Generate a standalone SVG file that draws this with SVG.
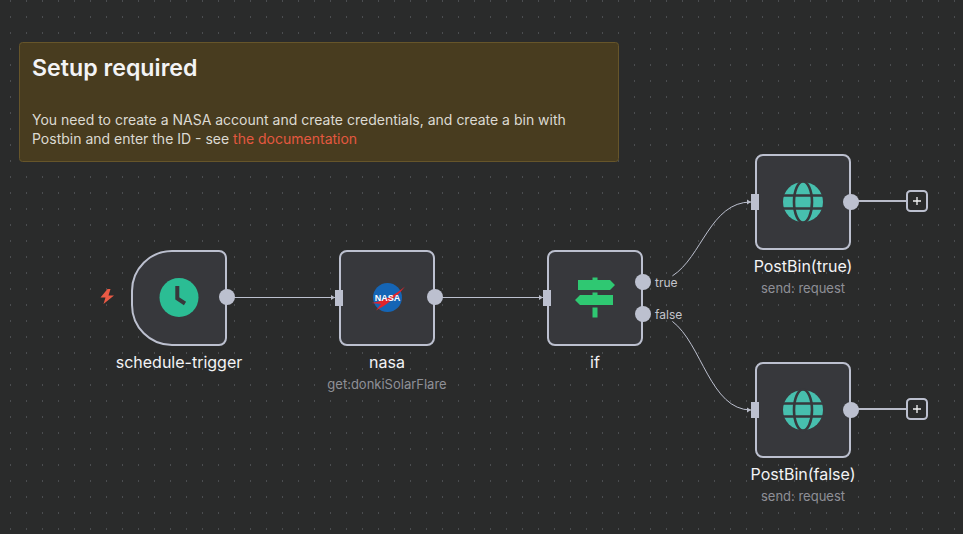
<svg xmlns="http://www.w3.org/2000/svg" width="963" height="534" viewBox="0 0 963 534">
<style>
.node{fill:#37383c;stroke:#bcc0cf;stroke-width:2}
.port{fill:#bcc0cf}
.edge{fill:none;stroke:#bcc0cf;stroke-width:1}
.stub{fill:none;stroke:#b9bcc9;stroke-width:2}
text{font-family:Inter,"Noto Sans","Liberation Sans",sans-serif}
.name{fill:#f3f3f5;font-size:16px;font-weight:400;text-anchor:middle}
.sub{fill:#8f9097;font-size:13px;text-anchor:middle}
.pl{fill:#c4c5cc;font-size:12px}
.note{fill:#dcdad2;font-size:14px}
.globe{fill:#47bfae}
</style>
<defs>
<pattern id="dots" width="16" height="16" patternUnits="userSpaceOnUse" x="10" y="0"><rect width="16" height="16" fill="#2a2b2b"/><rect width="1" height="2" fill="#4b4d50"/></pattern>
<marker id="arr" markerWidth="5" markerHeight="6" refX="4" refY="3" orient="auto" markerUnits="userSpaceOnUse"><path d="M0 0.500L4 3L0 5.500z" fill="#b9bcc9"/></marker>
<g id="globe-icon">
<circle cx="0" cy="0" r="20" class="globe"/>
<g fill="none" stroke="#37383c" stroke-width="2.600"><ellipse cx="0" cy="0" rx="9" ry="20.500"/><path d="M-21 -6.500H21M-21 6.500H21"/></g>
</g>
</defs>
<rect width="963" height="534" fill="url(#dots)"/>
<g id="connectors">
<path class="edge" d="M233 297.500H335" marker-end="url(#arr)"/>
<path class="edge" d="M441 297.500H543" marker-end="url(#arr)"/>
<path class="edge" d="M672.400 275.900C702 257.100 710.300 202 751 202" marker-end="url(#arr)"/>
<path class="edge" d="M672.400 321.400C702 343.900 710.300 410 751 410" marker-end="url(#arr)"/>
<path class="stub" d="M857 201H906"/>
<path class="stub" d="M857 409H906"/>
</g>
<g id="note">
<rect x="19.500" y="42.500" width="599" height="119" rx="3" fill="#483c1f" stroke="#66552a"/>
<text x="32" y="76" fill="#f3f3f5" font-size="23.200" font-weight="600">Setup required</text>
<text class="note" x="32" y="125">You need to create a NASA account and create credentials, and create a bin with</text>
<text class="note" x="32" y="144">Postbin and enter the ID - see <tspan fill="#e4583f">the documentation</tspan></text>
</g>
<g id="schedule-trigger">
<path d="M107.500 289L100.500 297.500H105.500L103.500 304L114 295.500H108.500L110.500 289z" fill="#ea5a45"/>
<path class="node" d="M172 251H219a7 7 0 0 1 7 7V338a7 7 0 0 1-7 7H172a40 40 0 0 1-40-40V291a40 40 0 0 1 40-40z"/>
<circle cx="179" cy="297.500" r="19.500" fill="#2bbd94"/>
<path d="M177.300 286V298.500L185 303.500" fill="none" stroke="#37383c" stroke-width="4"/>
<circle class="port" cx="227" cy="297" r="8"/>
<text class="name" x="179" y="368">schedule-trigger</text>
</g>
<g id="nasa">
<rect class="node" x="340" y="251" width="94" height="94" rx="7"/>
<rect class="port" x="335" y="290" width="8" height="16"/>
<circle cx="387.500" cy="297.500" r="14.500" fill="#1565b5"/>
<path d="M371.500 303C385 301 396 294 405 286.500C398 296 385 306 376 310.500L381 304z" fill="#e0242c"/>
<text x="387.500" y="301" font-size="9" font-weight="700" fill="#fff" text-anchor="middle" style="font-family:'Liberation Sans',sans-serif">NASA</text>
<circle class="port" cx="435" cy="297" r="8"/>
<text class="name" x="387" y="368">nasa</text>
<text class="sub" x="387" y="389">get:donkiSolarFlare</text>
</g>
<g id="if">
<rect class="node" x="548" y="251" width="94" height="94" rx="7"/>
<rect class="port" x="543" y="290" width="8" height="16"/>
<g fill="#2fc872">
<path d="M578 280H592.500V277.500H597.500V280H610L615 285L610 290H578z"/>
<path d="M592.500 292.500H597.500V295H613V305H580L575 300L580 295H592.500z"/>
<rect x="592.500" y="307.500" width="5" height="10"/>
</g>
<circle class="port" cx="643" cy="282" r="8"/>
<circle class="port" cx="643" cy="314" r="8"/>
<text class="pl" x="655" y="287">true</text>
<text class="pl" x="655" y="319">false</text>
<text class="name" x="595" y="368">if</text>
</g>
<g id="postbin-true">
<rect class="node" x="756" y="155" width="94" height="94" rx="7"/>
<rect class="port" x="751" y="194" width="8" height="16"/>
<use href="#globe-icon" x="803" y="202"/>
<circle class="port" cx="851" cy="202" r="8"/>
<rect x="907" y="191" width="20" height="20" rx="3.500" fill="#2a2b2b" stroke="#bcc0cf" stroke-width="2"/>
<path d="M917 197V205M913 201H921" stroke="#f3f3f5" stroke-width="1.300"/>
<text class="name" x="803" y="272">PostBin(true)</text>
<text class="sub" x="803" y="293">send: request</text>
</g>
<g id="postbin-false">
<rect class="node" x="756" y="363" width="94" height="94" rx="7"/>
<rect class="port" x="751" y="402" width="8" height="16"/>
<use href="#globe-icon" x="803" y="410"/>
<circle class="port" cx="851" cy="410" r="8"/>
<rect x="907" y="399" width="20" height="20" rx="3.500" fill="#2a2b2b" stroke="#bcc0cf" stroke-width="2"/>
<path d="M917 405V413M913 409H921" stroke="#f3f3f5" stroke-width="1.300"/>
<text class="name" x="803" y="480">PostBin(false)</text>
<text class="sub" x="803" y="501">send: request</text>
</g>
</svg>
